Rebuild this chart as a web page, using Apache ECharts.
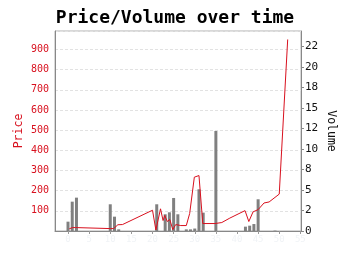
<!DOCTYPE html>
<html><head><meta charset="utf-8">
<script src="https://cdn.jsdelivr.net/npm/echarts@6/dist/echarts.min.js"></script>
<style>html,body{margin:0;padding:0;background:#fff}#c{width:350px;height:255px}</style>
</head><body><div id="c"></div>
<script>
const titleText = 'Price/Volume over time';
const priceName = 'Price';
const volumeName = 'Volume';
// x positions in weeks (tick every 5 weeks)
const volWeek = [0, 1, 2, 10, 11, 12, 21, 23, 24, 25, 26, 28, 29, 30, 31, 32, 35, 42, 43, 44, 45, 49];
const volume  = [1.14, 3.58, 4.07, 3.26, 1.75, 0.2, 3.26, 2.04, 2.28, 4.03, 2.04, 0.2, 0.2, 0.3, 5.09, 2.24, 12.2, 0.53, 0.65, 0.85, 3.87, 0.05];
const priceWeek = [0.3, 1.1, 1.8, 10, 10.8, 11.8, 12.9, 20, 20.8, 21.9, 22.5, 22.9, 23.5, 24.1, 24.8, 25.5, 26.7, 28, 28.8, 29.9, 31, 31.9, 34.8, 36.4, 38.3, 41.9, 42.8, 43.8, 45, 46.4, 47.6, 50, 52];
const price     = [11, 17, 17, 12, 12, 31, 32, 103, 5, 110, 52, 77, 47, 57, 7, 32, 27, 27, 87, 267, 275, 37, 37, 42, 64, 101, 47, 95, 106, 139, 144, 183, 950];
const priceTicks = ['100', '200', '300', '400', '500', '600', '700', '800', '900'];
const volumeTicks = ['0', '2', '5', '8', '10', '12', '15', '18', '20', '22'];

const RED = '#d8101e';
const FONT = 'DejaVu Sans Mono';
const chart = echarts.init(document.getElementById('c'), null, {renderer: 'canvas'});
chart.setOption({
  animation: false,
  backgroundColor: '#fff',
  textStyle: {fontFamily: FONT},
  title: {
    text: titleText, left: 'center', top: 4,
    textStyle: {fontFamily: FONT, fontWeight: 'bold', fontSize: 18, color: '#000'}
  },
  graphic: [{
    type: 'text', x: 19, y: 131, rotation: Math.PI / 2,
    style: {text: priceName, fill: RED, font: '11.5px "DejaVu Sans Mono"', align: 'center', verticalAlign: 'middle'}
  }, {
    type: 'text', x: 331, y: 131, rotation: -Math.PI / 2,
    style: {text: volumeName, fill: '#111', font: '11.5px "DejaVu Sans Mono"', align: 'center', verticalAlign: 'middle'}
  }],
  grid: {left: 55, right: 49, top: 31, bottom: 24, show: true, borderColor: '#b0b0b0', borderWidth: 1},
  xAxis: {
    type: 'value', min: -3.08, max: 55.15, splitNumber: 11,
    axisLine: {onZero: false, lineStyle: {color: '#888'}},
    axisTick: {show: true, length: 3, lineStyle: {color: '#999'}},
    axisLabel: {color: '#f0f3f6', fontSize: 9, margin: 4, showMinLabel: false, showMaxLabel: false},
    splitLine: {show: false}
  },
  yAxis: [{
    type: 'value', min: 0, max: 992, interval: 100, position: 'left',
    axisLine: {show: true, onZero: false, lineStyle: {color: '#888'}},
    axisTick: {show: false},
    axisLabel: {color: RED, fontSize: 10, margin: 6, showMinLabel: false, showMaxLabel: false,
      formatter: v => priceTicks[Math.round(v / 100) - 1] || ''},
    splitLine: {show: true, lineStyle: {color: '#e2e2e2', type: [3, 2]}}
  }, {
    type: 'value', min: 0, max: 24.4, interval: 2.5, position: 'right',
    axisLine: {show: true, onZero: false, lineStyle: {color: '#888'}},
    axisTick: {show: true, length: 3, lineStyle: {color: '#888'}},
    axisLabel: {color: '#111', fontSize: 11, margin: 4, showMaxLabel: false,
      formatter: v => volumeTicks[Math.round(v / 2.5)] || ''},
    splitLine: {show: false}
  }],
  series: [{
    type: 'bar', yAxisIndex: 1, barWidth: 3,
    itemStyle: {color: '#808080'},
    data: volWeek.map((w, i) => [w, volume[i]])
  }, {
    type: 'line', yAxisIndex: 0, symbol: 'none',
    lineStyle: {color: RED, width: 1},
    data: priceWeek.map((w, i) => [w, price[i]])
  }]
});
</script></body></html>
